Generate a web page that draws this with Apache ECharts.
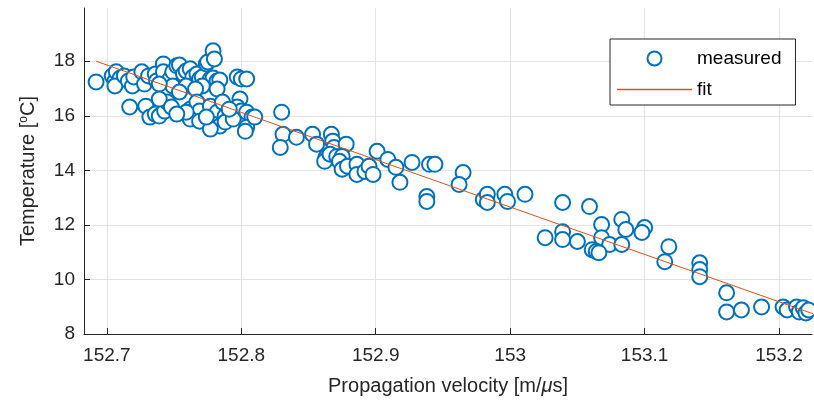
<!DOCTYPE html>
<html>
<head>
<meta charset="utf-8">
<script src="https://cdn.jsdelivr.net/npm/echarts@6/dist/echarts.min.js"></script>
<style>
  html, body { margin: 0; padding: 0; background: #fff; }
  #chart { width: 814px; height: 406px; }
</style>
</head>
<body>
<div id="chart"></div>
<script>
// measured points: propagation velocity [m/us] and temperature [oC]
var velocity = [
  152.692, 152.704, 152.706, 152.707, 152.710, 152.706, 152.713, 152.716, 152.719, 152.720,
  152.726, 152.728, 152.731, 152.736, 152.737, 152.742, 152.742, 152.747, 152.749, 152.752,
  152.754, 152.757, 152.759, 152.762, 152.764, 152.767, 152.769, 152.771, 152.774, 152.775,
  152.779, 152.780, 152.777, 152.779, 152.782, 152.784, 152.797, 152.800, 152.804, 152.749,
  152.759, 152.771, 152.782, 152.754, 152.739, 152.766,
  152.717, 152.729, 152.732, 152.736, 152.739, 152.743, 152.745, 152.739, 152.748, 152.762,
  152.767, 152.769, 152.777, 152.782, 152.786, 152.788, 152.799, 152.797, 152.800, 152.804,
  152.808, 152.762, 152.769, 152.779, 152.784, 152.788, 152.794, 152.804, 152.803, 152.777,
  152.759, 152.752, 152.774, 152.791, 152.810,
  152.830, 152.831, 152.829, 152.841, 152.853, 152.856, 152.867, 152.868, 152.869, 152.878,
  152.863, 152.862, 152.866, 152.871, 152.875, 152.873, 152.875, 152.879, 152.886, 152.886,
  152.892, 152.895, 152.898, 152.901, 152.909, 152.915, 152.918, 152.927, 152.940, 152.944,
  152.938, 152.938, 152.965, 152.962, 152.980, 152.983, 152.983, 152.996, 152.998, 153.011,
  153.039, 153.059, 153.026, 153.039, 153.039, 153.050, 153.068, 153.068, 153.074, 153.061,
  153.064, 153.066, 153.083, 153.086, 153.100, 153.098, 153.083, 153.118, 153.115, 153.141,
  153.141, 153.141, 153.161, 153.161, 153.172, 153.187, 153.203, 153.206, 153.213, 153.215,
  153.218, 153.220, 153.222
];
var temperature = [
  17.24, 17.46, 17.27, 17.61, 17.38, 17.09, 17.46, 17.27, 17.09, 17.42,
  17.61, 17.16, 17.46, 17.53, 17.27, 17.90, 17.61, 17.35, 17.61, 17.83,
  17.86, 17.53, 17.64, 17.72, 17.42, 17.53, 17.35, 17.42, 17.90, 17.97,
  18.38, 18.08, 17.35, 17.38, 17.27, 17.31, 17.42, 17.35, 17.35, 17.09,
  17.09, 17.09, 16.98, 16.87, 17.16, 16.98,
  16.32, 16.35, 15.95, 16.06, 15.99, 16.17, 16.50, 16.61, 16.32, 16.24,
  16.50, 16.17, 16.35, 16.13, 16.50, 15.99, 16.61, 16.32, 16.17, 16.13,
  15.95, 15.88, 15.80, 15.69, 15.62, 15.77, 15.88, 15.58, 15.43, 15.51,
  16.13, 16.06, 15.95, 16.24, 15.95,
  16.13, 15.32, 14.84, 15.21, 15.32, 14.96, 15.32, 15.07, 14.84, 14.96,
  14.48, 14.33, 14.59, 14.51, 14.51, 14.33, 14.04, 14.15, 14.22, 13.85,
  13.96, 14.15, 13.85, 14.70, 14.40, 14.11, 13.56, 14.29, 14.22, 14.22,
  13.04, 12.86, 13.92, 13.48, 12.93, 13.12, 12.82, 13.12, 12.86, 13.12,
  12.82, 12.67, 11.53, 11.75, 11.46, 11.39, 12.01, 11.53, 11.28, 11.09,
  11.02, 10.98, 12.20, 11.83, 11.90, 11.72, 11.28, 11.20, 10.65, 10.61,
  10.36, 10.10, 9.51, 8.81, 8.88, 8.99, 8.99, 8.88, 8.99, 8.81,
  8.96, 8.77, 8.88
];

// linear fit end points
var fitVelocity = [152.692, 153.226];
var fitTemperature = [18.0, 8.73];

var xTicks = [152.7, 152.8, 152.9, 153, 153.1, 153.2];
var yTicks = [8, 10, 12, 14, 16, 18];

var measured = velocity.map(function (v, i) { return [v, temperature[i]]; });
var fit = fitVelocity.map(function (v, i) { return [v, fitTemperature[i]]; });

var font = 'Liberation Sans, Arial, Helvetica, sans-serif';
var axisColor = '#262626';
var fitColor = '#D95319';

var myChart = echarts.init(document.getElementById('chart'), null, { renderer: 'canvas' });

var option = {
  animation: false,
  backgroundColor: '#fff',
  grid: { left: 84, right: 2, top: 8, bottom: 72 },
  legend: {
    orient: 'vertical',
    left: 610,
    top: 39,
    padding: [10, 14, 6, 7],
    itemWidth: 75,
    itemHeight: 14,
    itemGap: 12,
    borderColor: axisColor,
    borderWidth: 1,
    backgroundColor: '#fff',
    textStyle: { fontFamily: font, fontSize: 19, color: '#000' },
    data: [
      { name: 'measured', icon: 'emptyCircle' },
      // thin bar so the fit entry shows a plain line (keepAspect keeps it thin)
      { name: 'fit', icon: 'path://M0,0h75v1.3h-75z', itemStyle: { color: fitColor, borderWidth: 0 } }
    ]
  },
  xAxis: {
    type: 'value',
    min: 152.683,
    max: 153.2245,
    name: 'Propagation velocity [m/{i|μ}s]',
    nameLocation: 'middle',
    nameGap: 42,
    nameTextStyle: {
      fontFamily: font, fontSize: 20, color: '#262626',
      rich: { i: { fontFamily: font, fontSize: 20, fontStyle: 'italic', color: '#262626' } }
    },
    axisLine: { show: true, onZero: false, lineStyle: { color: axisColor, width: 1 } },
    axisTick: { show: true, inside: true, length: 6, customValues: xTicks, lineStyle: { color: axisColor } },
    axisLabel: {
      customValues: xTicks, margin: 12, fontFamily: font, fontSize: 19, color: '#262626'
    },
    splitLine: { show: true, lineStyle: { color: '#e3e3e3', width: 1 } }
  },
  yAxis: {
    type: 'value',
    min: 8,
    max: 19.95,
    name: 'Temperature [{s|o}C]',
    nameLocation: 'middle',
    nameGap: 46,
    nameTextStyle: {
      fontFamily: font, fontSize: 20, color: '#262626',
      rich: { s: { fontFamily: font, fontSize: 12, verticalAlign: 'top', padding: [0, 0, 8, 0], color: '#262626' } }
    },
    axisLine: { show: true, onZero: false, lineStyle: { color: axisColor, width: 1 } },
    axisTick: { show: true, inside: true, length: 6, customValues: yTicks, lineStyle: { color: axisColor } },
    axisLabel: {
      customValues: yTicks, margin: 9, fontFamily: font, fontSize: 19, color: '#262626'
    },
    splitLine: { show: true, lineStyle: { color: '#e3e3e3', width: 1 } }
  },
  series: [
    {
      name: 'measured',
      type: 'scatter',
      data: measured,
      symbol: 'emptyCircle',
      symbolSize: 15,
      itemStyle: { color: '#0072BD', borderColor: '#0072BD', borderWidth: 1.5, opacity: 1 },
      z: 2
    },
    {
      name: 'fit',
      type: 'line',
      data: fit,
      symbol: 'none',
      lineStyle: { color: fitColor, width: 1 },
      itemStyle: { color: fitColor },
      z: 3
    }
  ]
};

myChart.setOption(option);
</script>
</body>
</html>
